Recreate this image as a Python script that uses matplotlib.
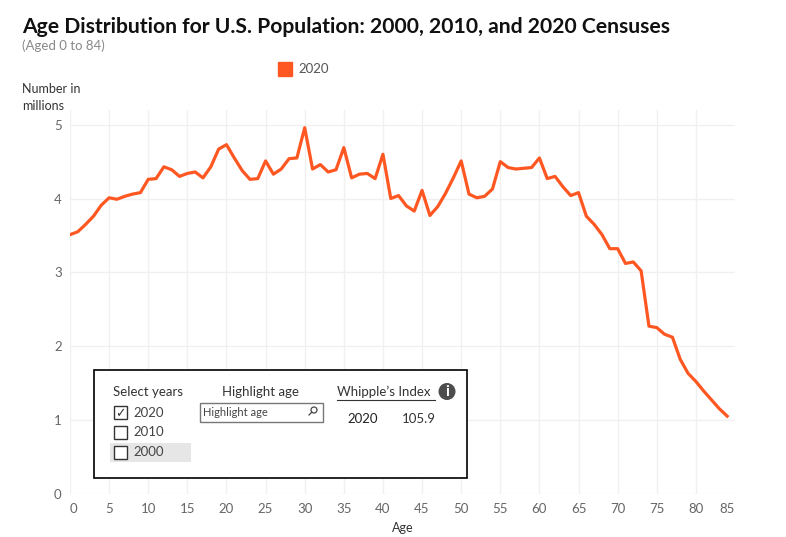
import matplotlib.pyplot as plt
import matplotlib.patches as mpatches
from matplotlib.lines import Line2D
from matplotlib.transforms import Affine2D
import numpy as np

plt.rcParams['font.family'] = ['Lato', 'DejaVu Sans']

# population by single year of age, 2020 census (millions)
ages = list(range(0, 85))
pop_2020 = [
    3.51, 3.55, 3.65, 3.76, 3.91, 4.01, 3.99, 4.03, 4.06, 4.08,
    4.26, 4.27, 4.43, 4.39, 4.30, 4.34, 4.36, 4.28, 4.43, 4.67,
    4.73, 4.55, 4.38, 4.26, 4.27, 4.51, 4.33, 4.40, 4.54, 4.55,
    4.96, 4.40, 4.46, 4.36, 4.39, 4.69, 4.28, 4.33, 4.34, 4.27,
    4.60, 4.00, 4.04, 3.90, 3.83, 4.11, 3.77, 3.89, 4.07, 4.28,
    4.51, 4.06, 4.01, 4.03, 4.13, 4.50, 4.42, 4.40, 4.41, 4.42,
    4.55, 4.27, 4.30, 4.16, 4.04, 4.08, 3.76, 3.65, 3.51, 3.32,
    3.32, 3.12, 3.14, 3.02, 2.27, 2.25, 2.16, 2.12, 1.82, 1.63,
    1.52, 1.39, 1.27, 1.15, 1.05,
]
x_ticks = list(range(0, 90, 5))
y_ticks = [0, 1, 2, 3, 4, 5]
years = ['2020', '2010', '2000']
whipple_year = '2020'
whipple_value = '105.9'

W, H = 786, 537
line_color = '#FF5722'
grid_color = '#f0f0f0'

fig = plt.figure(figsize=(W / 100, H / 100), dpi=100)
ax = fig.add_axes([70 / W, 1 - 493.6 / H, (735 - 70) / W, (493.6 - 110) / H])

ax.plot(ages, pop_2020, color=line_color, lw=2.3, solid_joinstyle='round', zorder=3)
ax.set_xlim(0, 85)
ax.set_ylim(0, 5.2)
ax.set_xticks(x_ticks)
ax.set_yticks(y_ticks)
ax.grid(True, color=grid_color, lw=1)
ax.set_axisbelow(True)
ax.get_xgridlines()[-1].set_visible(False)
for s in ax.spines.values():
    s.set_visible(False)
ax.tick_params(length=0, labelsize=9.5, colors='#666666', pad=7)
ax.tick_params(axis='y', pad=6)
xlabels = ax.get_xticklabels()
xlabels[0].set_horizontalalignment('left')
xlabels[-1].set_horizontalalignment('right')
ax.set_xlabel('Age', fontsize=9, color='#333333', labelpad=5)

# pixel transform, origin top-left
px = Affine2D().scale(1, -1).translate(0, H)


def ptext(x, y, s, **kw):
    kw.setdefault('va', 'center')
    kw.setdefault('color', '#333333')
    kw.setdefault('fontsize', 9.5)
    return fig.text(x / W, 1 - y / H, s, **kw)


ptext(22, 27, 'Age Distribution for U.S. Population: 2000, 2010, and 2020 Censuses',
      fontsize=15.2, fontweight='bold', color='#111111')
ptext(22, 46, '(Aged 0 to 84)', fontsize=9.5, color='#888888')

# legend
fig.patches.append(mpatches.Rectangle((278, 62), 14, 14, transform=px, color=line_color))
ptext(298, 69, '2020', fontsize=9.5, color='#555555')

ptext(22, 89, 'Number in', fontsize=9, color='#333333')
ptext(22, 106, 'millions', fontsize=9, color='#333333')

# control panel
fig.patches.append(mpatches.Rectangle((93.5, 370), 373, 108, transform=px,
                                      facecolor='white', edgecolor='black', lw=1.2, zorder=5))
fig.patches.append(mpatches.Rectangle((110, 442.5), 81, 19, transform=px,
                                      facecolor='#e6e6e6', edgecolor='none', zorder=6))
ptext(113, 392, 'Select years', zorder=7)
for i, yr in enumerate(years):
    yy = 412.7 + 19.8 * i
    fig.patches.append(mpatches.Rectangle((113.5, yy - 6.5), 13, 13, transform=px,
                                          facecolor='white', edgecolor='#333333', lw=1, zorder=7))
    ptext(133, yy, yr, color='#444444', zorder=7)
    if i == 0:
        ptext(120, yy + 1, '✓', ha='center', family='DejaVu Sans', fontsize=9,
              color='#333333', zorder=8)

ptext(261, 392, 'Highlight age', ha='center', zorder=7)
fig.patches.append(mpatches.Rectangle((199.5, 402.5), 123, 19, transform=px,
                                      facecolor='white', edgecolor='#777777', lw=1, zorder=7))
ptext(203, 412, 'Highlight age', fontsize=8, color='#444444', zorder=8)
fig.patches.append(mpatches.Circle((314, 410), 3, transform=px, facecolor='none',
                                   edgecolor='#444444', lw=0.9, zorder=8))
fig.lines.append(Line2D([311.8, 309], [412.2, 415], transform=px, color='#444444', lw=0.9, zorder=8))

ptext(337, 392, 'Whipple’s Index', zorder=7)
fig.lines.append(Line2D([337, 435], [399.5, 399.5], transform=px, color='#333333', lw=0.8, zorder=7))
fig.patches.append(mpatches.Circle((447, 391.5), 8.5, transform=px, facecolor='#4d4d4d',
                                   edgecolor='none', zorder=7))
ptext(447, 392, 'i', ha='center', fontsize=11, fontweight='bold', color='white', zorder=8)
ptext(347, 419, whipple_year, color='#222222', zorder=7)
ptext(402, 419, whipple_value, color='#333333', zorder=7)

fig.savefig('out.png', dpi=100)
